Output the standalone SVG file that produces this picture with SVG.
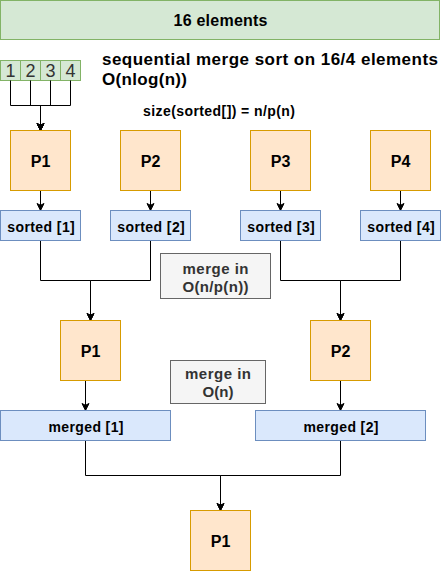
<svg xmlns="http://www.w3.org/2000/svg" width="441" height="571" viewBox="0 0 441 571">
<style>
.g{fill:#d5e8d4;stroke:#82b366;stroke-width:1}
.p{fill:#ffe6cc;stroke:#d79b00;stroke-width:1}
.b{fill:#dae8fc;stroke:#6c8ebf;stroke-width:1}
.n{fill:#f5f5f5;stroke:#666666;stroke-width:1}
text{font-family:"Liberation Sans",Arial,sans-serif;fill:#000}
.bold{font-weight:bold}
.pl{font-size:16px;font-weight:bold;text-anchor:middle}
.sl{font-size:14px;font-weight:bold;text-anchor:middle}
.ml{font-size:15px;font-weight:bold;text-anchor:middle;fill:#333333}
.dg{font-size:18px;text-anchor:middle;fill:#333333}
.e{fill:none;stroke:#000;stroke-width:1}
</style>
<defs>
<marker id="arr" markerUnits="userSpaceOnUse" markerWidth="10" markerHeight="10" viewBox="0 0 10 10" refX="8" refY="5" orient="auto">
<path d="M1,1.5 L8,5 L1,8.5 L2.8,5 Z" fill="#000" stroke="#000" stroke-width="1"/>
</marker>
</defs>
<rect width="441" height="571" fill="#ffffff"/>
<g transform="translate(0.5,0.5)">
<g id="banner"><rect class="g" x="0" y="0" width="439" height="39"/><text class="bold" x="220" y="25.5" font-size="16" text-anchor="middle" textLength="94" lengthAdjust="spacing">16 elements</text></g>
<g id="array">
<rect class="g" x="0" y="60" width="20" height="20"/><text class="dg" x="10" y="76">1</text>
<rect class="g" x="20" y="60" width="20" height="20"/><text class="dg" x="30" y="76">2</text>
<rect class="g" x="40" y="60" width="20" height="20"/><text class="dg" x="50" y="76">3</text>
<rect class="g" x="60" y="60" width="20" height="20"/><text class="dg" x="70" y="76">4</text>
</g>
<g id="title"><text class="bold" x="101.5" y="64" font-size="17" textLength="336" lengthAdjust="spacing">sequential merge sort on 16/4 elements</text><text class="bold" x="101.5" y="84" font-size="17" textLength="85" lengthAdjust="spacing">O(nlog(n))</text></g>
<g id="size"><text class="bold" x="142.5" y="115.5" font-size="14" textLength="152" lengthAdjust="spacing">size(sorted[]) = n/p(n)</text></g>
<g id="connectors">
<path class="e" d="M10,80 V105 H40 V130" marker-end="url(#arr)"/>
<path class="e" d="M30,80 V105 H40 V130" marker-end="url(#arr)"/>
<path class="e" d="M50,80 V105 H40 V130" marker-end="url(#arr)"/>
<path class="e" d="M70,80 V105 H40 V130" marker-end="url(#arr)"/>
<path class="e" d="M40,190 V210" marker-end="url(#arr)"/>
<path class="e" d="M150,190 V210" marker-end="url(#arr)"/>
<path class="e" d="M280,190 V210" marker-end="url(#arr)"/>
<path class="e" d="M400,190 V210" marker-end="url(#arr)"/>
<path class="e" d="M40,240 V280 H90 V320" marker-end="url(#arr)"/>
<path class="e" d="M150,240 V280 H90 V320" marker-end="url(#arr)"/>
<path class="e" d="M280,240 V280 H340 V320" marker-end="url(#arr)"/>
<path class="e" d="M400,240 V280 H340 V320" marker-end="url(#arr)"/>
<path class="e" d="M85,380 V410" marker-end="url(#arr)"/>
<path class="e" d="M340,380 V410" marker-end="url(#arr)"/>
<path class="e" d="M85,440 V475 H220 V510" marker-end="url(#arr)"/>
<path class="e" d="M340,440 V475 H220 V510" marker-end="url(#arr)"/>
</g>
<g id="p1a"><rect class="p" x="10" y="130" width="60" height="60"/><text class="pl" x="40" y="166">P1</text></g>
<g id="p2a"><rect class="p" x="120" y="130" width="60" height="60"/><text class="pl" x="150" y="166">P2</text></g>
<g id="p3a"><rect class="p" x="250" y="130" width="60" height="60"/><text class="pl" x="280" y="166">P3</text></g>
<g id="p4a"><rect class="p" x="370" y="130" width="60" height="60"/><text class="pl" x="400" y="166">P4</text></g>
<g id="sorted1"><rect class="b" x="0" y="210" width="80" height="30"/><text class="sl" x="40.5" y="231" textLength="67.5" lengthAdjust="spacing">sorted [1]</text></g>
<g id="sorted2"><rect class="b" x="110" y="210" width="80" height="30"/><text class="sl" x="150.5" y="231" textLength="67.5" lengthAdjust="spacing">sorted [2]</text></g>
<g id="sorted3"><rect class="b" x="240" y="210" width="80" height="30"/><text class="sl" x="280.5" y="231" textLength="67.5" lengthAdjust="spacing">sorted [3]</text></g>
<g id="sorted4"><rect class="b" x="360" y="210" width="80" height="30"/><text class="sl" x="400.5" y="231" textLength="67.5" lengthAdjust="spacing">sorted [4]</text></g>
<g id="merge1"><rect class="n" x="160" y="253" width="110" height="45"/><text class="ml" x="215" y="273" textLength="66" lengthAdjust="spacing">merge in</text><text class="ml" x="215" y="291" textLength="66" lengthAdjust="spacing">O(n/p(n))</text></g>
<g id="p1b"><rect class="p" x="60" y="320" width="60" height="60"/><text class="pl" x="90" y="356">P1</text></g>
<g id="p2b"><rect class="p" x="310" y="320" width="60" height="60"/><text class="pl" x="340" y="356">P2</text></g>
<g id="merge2"><rect class="n" x="170" y="360" width="95" height="43"/><text class="ml" x="217.5" y="378.5" textLength="66" lengthAdjust="spacing">merge in</text><text class="ml" x="217.5" y="396.5">O(n)</text></g>
<g id="merged1"><rect class="b" x="0" y="410" width="170" height="30"/><text class="sl" x="85.5" y="431.5" textLength="75" lengthAdjust="spacing">merged [1]</text></g>
<g id="merged2"><rect class="b" x="255" y="410" width="170" height="30"/><text class="sl" x="340.5" y="431.5" textLength="75" lengthAdjust="spacing">merged [2]</text></g>
<g id="p1c"><rect class="p" x="190" y="510" width="60" height="60"/><text class="pl" x="220" y="546">P1</text></g>
</g>
</svg>
